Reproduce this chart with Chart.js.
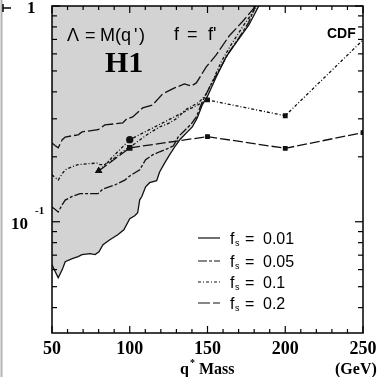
<!DOCTYPE html>
<html>
<head>
<meta charset="utf-8">
<script src="https://cdn.jsdelivr.net/npm/chart.js@4.4.0/dist/chart.umd.min.js"></script>
<style>
  html, body { margin: 0; padding: 0; background: #fff; }
  #wrap { width: 377px; height: 377px; }
</style>
</head>
<body>
<div id="wrap"><canvas id="plot" width="377" height="377"></canvas></div>
<script>
// H1 limits (Lambda = M(q*), f = f'), one curve per f_s
const fs001Mass = [50, 52.1, 54.0, 56.6, 58.5, 63.0, 66.8, 69.3, 74.5, 77.7, 80.2, 82.8, 87.2, 92.3, 96.2, 100.0, 103.2, 105.1, 106.4, 107.7, 110.2, 112.8, 117.3, 119.2, 122.4, 125.6, 129.4, 132.6, 137.1, 140.2, 143.4, 146.6, 149.8, 155.6, 162.0, 168.3, 176.6, 183.0];
const fs001Limit = [0.0632, 0.0587, 0.0550, 0.0600, 0.0653, 0.0674, 0.0689, 0.0704, 0.0711, 0.0704, 0.0726, 0.0783, 0.0825, 0.0871, 0.0918, 0.1033, 0.1066, 0.1101, 0.1264, 0.1305, 0.1452, 0.1517, 0.1549, 0.170, 0.187, 0.204, 0.225, 0.242, 0.261, 0.275, 0.303, 0.348, 0.379, 0.469, 0.581, 0.674, 0.817, 1.0];

const fs005Mass = [50, 52.1, 54.0, 56.6, 58.5, 63.0, 68.1, 79.6, 82.8, 90.4, 96.8, 100.0, 106.4, 110.2, 114.7, 119.2, 124.3, 128.1, 131.3, 135.8, 139.6, 142.8, 146.6, 151.1, 157.5, 163.9, 170.2, 176.5, 179.8];
const fs005Limit = [0.117, 0.114, 0.111, 0.120, 0.126, 0.131, 0.135, 0.135, 0.142, 0.148, 0.156, 0.163, 0.174, 0.194, 0.204, 0.211, 0.218, 0.225, 0.248, 0.267, 0.284, 0.306, 0.359, 0.417, 0.506, 0.612, 0.711, 0.84, 0.96];

const fs01Mass = [50, 52.1, 54.0, 56.6, 58.5, 63.0, 66.8, 74.5, 78.9, 80.8, 84.0, 90.4, 96.8, 103.2, 108.3, 112.8, 119.2, 125.6, 130.7, 135.8, 140.2, 144.7, 149.2, 153.6, 158.8, 165.1, 173.4, 181.1];
const fs01Limit = [0.165, 0.160, 0.156, 0.167, 0.174, 0.180, 0.184, 0.186, 0.187, 0.184, 0.184, 0.198, 0.215, 0.230, 0.245, 0.258, 0.275, 0.287, 0.303, 0.330, 0.344, 0.359, 0.391, 0.454, 0.551, 0.660, 0.817, 0.979];

const fs02Mass = [50, 52.1, 54.0, 56.6, 58.5, 66.8, 69.3, 79.6, 84.0, 95.5, 98.1, 101.9, 108.3, 114.7, 121.1, 128.8, 135.1, 139.6, 142.8, 149.2, 155.6, 163.9, 173.4, 181.0];
const fs02Limit = [0.232, 0.225, 0.220, 0.240, 0.247, 0.253, 0.261, 0.267, 0.281, 0.287, 0.300, 0.306, 0.337, 0.348, 0.391, 0.417, 0.435, 0.426, 0.440, 0.522, 0.593, 0.726, 0.861, 1.0];

// CDF limits
const cdfMass = [80, 100, 150, 200, 250];
const cdfUpper = [0.172, 0.240, 0.367, 0.310, 0.696];
const cdfLower = [0.172, 0.220, 0.248, 0.219, 0.259];

// axis ticks
const xLabelTicks = [50, 100, 150, 200, 250];
const yMajorTicks = [0.1, 1];
const yMinorTicks = [0.04, 0.05, 0.06, 0.07, 0.08, 0.09, 0.2, 0.3, 0.4, 0.5, 0.6, 0.7, 0.8, 0.9];
const legendLabels = ["0.01", "0.05", "0.1", "0.2"];

function pts(xs, ys) {
  return xs.map((x, i) => ({ x: x, y: ys[i] }));
}

const dashes = {
  fs001: [],
  fs005: [9, 2, 3, 2],
  fs01: [3, 2, 1, 2],
  fs02: [12, 3],
  cdfUp: [3, 2, 1, 2],
  cdfLo: [10, 3]
};

const ink = "#111";

function line(ctx, x1, y1, x2, y2) {
  ctx.beginPath();
  ctx.moveTo(x1, y1);
  ctx.lineTo(x2, y2);
  ctx.stroke();
}

const frame = {
  id: "frame",
  afterDraw(chart) {
    const ctx = chart.ctx;
    const a = chart.chartArea;
    const x = chart.scales.x;
    const y = chart.scales.y;
    ctx.save();

    // left grey border of the scan
    ctx.strokeStyle = "#b4b4b4";
    ctx.lineWidth = 2;
    line(ctx, 1.5, 0, 1.5, 377);
    ctx.strokeStyle = "#000";
    ctx.lineWidth = 1.5;
    line(ctx, 3, 4, 3, 12);
    line(ctx, 3, 8, 11, 8);

    // frame + inward ticks
    ctx.strokeStyle = "#000";
    ctx.lineWidth = 1.5;
    ctx.strokeRect(a.left, a.top, a.right - a.left, a.bottom - a.top);
    ctx.lineWidth = 1.2;
    for (let m = 50; m <= 250; m += 10) {
      const px = x.getPixelForValue(m);
      const len = m % 50 === 0 ? 7 : 4;
      line(ctx, px, a.bottom, px, a.bottom - len);
      line(ctx, px, a.top, px, a.top + len);
    }
    yMinorTicks.concat(yMajorTicks).forEach(v => {
      const py = y.getPixelForValue(v);
      const len = yMajorTicks.includes(v) ? 8 : 5;
      line(ctx, a.left, py, a.left + len, py);
      line(ctx, a.right, py, a.right - len, py);
    });

    // tick labels
    ctx.fillStyle = "#000";
    ctx.font = "bold 18px 'Liberation Serif', serif";
    ctx.textAlign = "center";
    ctx.textBaseline = "alphabetic";
    xLabelTicks.forEach(m => {
      ctx.fillText(String(m), x.getPixelForValue(m), 354);
    });
    ctx.textAlign = "left";
    ctx.font = "bold 17px 'Liberation Serif', serif";
    ctx.fillText("1", 27, y.getPixelForValue(1) + 7);
    const p10 = y.getPixelForValue(0.1);
    ctx.fillText("10", 11, p10 + 7);
    ctx.font = "bold 11px 'Liberation Serif', serif";
    ctx.fillText("-1", 35, p10 - 8);

    // axis title
    ctx.font = "bold 16px 'Liberation Serif', serif";
    ctx.fillText("q", 180, 374);
    ctx.font = "bold 10px 'Liberation Serif', serif";
    ctx.fillText("*", 190, 366);
    ctx.font = "bold 16px 'Liberation Serif', serif";
    ctx.fillText("Mass", 199, 374);
    ctx.fillText("(GeV)", 335, 374);

    // labels inside the plot
    ctx.font = "18px 'Liberation Sans', sans-serif";
    ctx.fillText("Λ", 67, 41);
    ctx.fillText("=", 85, 41);
    ctx.fillText("M(q", 100, 41);
    ctx.fillText("'", 134, 41);
    ctx.fillText(")", 139, 41);
    ctx.fillText("f", 174, 40);
    ctx.fillText("=", 187, 40);
    ctx.fillText("f", 208, 40);
    ctx.fillText("'", 213, 40);
    ctx.font = "bold 30px 'Liberation Serif', serif";
    ctx.fillText("H1", 105, 72);
    ctx.font = "bold 14px 'Liberation Sans', sans-serif";
    ctx.fillText("CDF", 327, 38);

    // legend
    const rows = [238, 261, 282, 303];
    const styles = [dashes.fs001, dashes.fs005, dashes.fs01, dashes.fs02];
    rows.forEach((ry, i) => {
      ctx.strokeStyle = ink;
      ctx.lineWidth = 1.2;
      ctx.setLineDash(styles[i]);
      line(ctx, 198, ry, 220, ry);
      ctx.setLineDash([]);
      ctx.font = "16px 'Liberation Sans', sans-serif";
      ctx.fillText("f", 230, ry + 6);
      ctx.font = "9px 'Liberation Sans', sans-serif";
      ctx.fillText("s", 235, ry + 8);
      ctx.font = "16px 'Liberation Sans', sans-serif";
      ctx.fillText("=", 245, ry + 6);
      ctx.fillText(legendLabels[i], 263, ry + 6);
    });
    ctx.restore();
  }
};

const lineDefaults = {
  borderColor: ink,
  borderWidth: 1.3,
  pointRadius: 0,
  tension: 0,
  fill: false
};

new Chart(document.getElementById("plot"), {
  type: "line",
  data: {
    datasets: [
      Object.assign({}, lineDefaults, {
        label: "CDF lower",
        data: pts(cdfMass, cdfLower),
        borderDash: dashes.cdfLo,
        pointStyle: ["triangle", "rect", "rect", "rect", "rect"],
        pointRadius: [3, 3, 2.5, 2.5, 2.5],
        pointBackgroundColor: ink,
        pointBorderColor: ink
      }),
      Object.assign({}, lineDefaults, {
        label: "CDF upper",
        data: pts(cdfMass, cdfUpper),
        borderDash: dashes.cdfUp,
        pointStyle: ["triangle", "circle", "rect", "rect", "rect"],
        pointRadius: [3, 3, 2.5, 2.5, 0],
        pointBackgroundColor: ink,
        pointBorderColor: ink
      }),
      Object.assign({}, lineDefaults, { label: "fs 0.2", data: pts(fs02Mass, fs02Limit), borderDash: dashes.fs02 }),
      Object.assign({}, lineDefaults, { label: "fs 0.1", data: pts(fs01Mass, fs01Limit), borderDash: dashes.fs01 }),
      Object.assign({}, lineDefaults, { label: "fs 0.05", data: pts(fs005Mass, fs005Limit), borderDash: dashes.fs005 }),
      Object.assign({}, lineDefaults, {
        label: "fs 0.01",
        data: pts(fs001Mass, fs001Limit),
        fill: "end",
        backgroundColor: "#d3d3d3"
      })
    ]
  },
  options: {
    responsive: false,
    animation: false,
    devicePixelRatio: 1,
    layout: { padding: { left: 52, right: 14, top: 6, bottom: 44 } },
    plugins: { legend: { display: false }, tooltip: { enabled: false } },
    scales: {
      x: { type: "linear", min: 50, max: 250, display: false },
      y: { type: "logarithmic", min: 0.0305, max: 1, display: false }
    }
  },
  plugins: [frame]
});
</script>
</body>
</html>
